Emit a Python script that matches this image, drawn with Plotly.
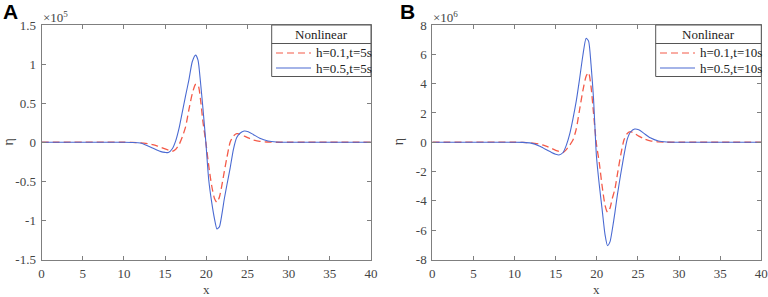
import plotly.graph_objects as go

W, H = 768, 297

# ---- data ----
x_vals = [0, 10, 11, 12, 13, 13.5, 14, 14.5, 15, 15.4, 15.9, 16.3, 16.7, 17.1, 17.5, 17.9,
          18.3, 18.7, 19.0, 19.3, 19.6, 19.95, 20.3, 20.65, 21.0, 21.3, 21.6, 21.9, 22.2,
          22.5, 22.9, 23.3, 23.7, 24.1, 24.6, 25.1, 25.7, 26.5, 27.5, 28.5, 30, 40]

# Panel A, eta in units of 1e5
a_h01_t5 = [0, 0, -0.002, -0.008, -0.02, -0.03, -0.045, -0.065, -0.085, -0.1, -0.115, -0.09,
            -0.03, 0.07, 0.2, 0.42, 0.62, 0.74, 0.735, 0.55, 0.26, 0.0, -0.3, -0.55, -0.72,
            -0.77, -0.7, -0.55, -0.37, -0.2, 0.0, 0.08, 0.11, 0.105, 0.08, 0.055, 0.03,
            0.012, 0.003, 0, 0, 0]
a_h05_t5 = [0, 0, -0.003, -0.01, -0.05, -0.075, -0.1, -0.12, -0.13, -0.132, -0.08, 0.02,
            0.18, 0.39, 0.6, 0.8, 1.03, 1.115, 1.05, 0.77, 0.43, 0.0, -0.48, -0.76, -0.98,
            -1.11, -1.08, -0.92, -0.72, -0.55, -0.33, -0.09, 0.06, 0.115, 0.143, 0.135,
            0.1, 0.05, 0.015, 0.003, 0, 0]

# Panel B, eta in units of 1e6
b_h01_t10 = [0, 0, -0.01, -0.04, -0.12, -0.2, -0.3, -0.42, -0.55, -0.63, -0.7, -0.5,
             -0.2, 0.15, 0.9, 2.2, 3.5, 4.5, 4.75, 3.8, 2.0, -0.1, -1.4, -3.0, -4.3,
             -4.78, -4.5, -3.8, -3.2, -2.2, -0.9, 0.15, 0.6, 0.72, 0.6, 0.42, 0.25,
             0.1, 0.02, 0, 0, 0]
b_h05_t10 = [0, 0, -0.01, -0.06, -0.25, -0.4, -0.55, -0.7, -0.82, -0.87, -0.7, -0.2,
             0.55, 1.6, 2.8, 4.3, 5.9, 7.1, 6.9, 5.3, 3.0, -0.9, -2.9, -4.6, -6.3,
             -7.05, -6.8, -5.9, -4.8, -3.6, -2.2, -0.9, 0.2, 0.7, 0.9, 0.85, 0.62,
             0.3, 0.08, 0.015, 0, 0]

x_ticks = [0, 5, 10, 15, 20, 25, 30, 35, 40]
a_yticks = [-1.5, -1, -0.5, 0, 0.5, 1, 1.5]
a_yticklabels = ["-1.5", "-1", "-0.5", "0", "0.5", "1", "1.5"]
b_yticks = [-8, -6, -4, -2, 0, 2, 4, 6, 8]
b_yticklabels = ["-8", "-6", "-4", "-2", "0", "2", "4", "6", "8"]

names_a = ["h=0.1,t=5s", "h=0.5,t=5s"]
names_b = ["h=0.1,t=10s", "h=0.5,t=10s"]

RED = "#f45a48"
BLUE = "#4a6ad2"
AX = "#7f7f7f"
TXT = "#444444"
SERIF = "Liberation Serif"
SANS = "Liberation Sans"


def px(x):
    return x / W


def py(y):
    return 1 - y / H


PA = dict(l=41.5, r=371, t=25, b=259.5)
PB = dict(l=432.3, r=761.3, t=25, b=259.5)

fig = go.Figure()
fig.add_trace(go.Scatter(x=x_vals, y=a_h01_t5, mode="lines", name=names_a[0],
                         line=dict(color=RED, width=1.3, dash="7px,4px", shape="spline", smoothing=0.6),
                         xaxis="x", yaxis="y", showlegend=False))
fig.add_trace(go.Scatter(x=x_vals, y=a_h05_t5, mode="lines", name=names_a[1],
                         line=dict(color=BLUE, width=1.1, shape="spline", smoothing=0.6),
                         xaxis="x", yaxis="y", showlegend=False))
fig.add_trace(go.Scatter(x=x_vals, y=b_h01_t10, mode="lines", name=names_b[0],
                         line=dict(color=RED, width=1.3, dash="7px,4px", shape="spline", smoothing=0.6),
                         xaxis="x2", yaxis="y2", showlegend=False))
fig.add_trace(go.Scatter(x=x_vals, y=b_h05_t10, mode="lines", name=names_b[1],
                         line=dict(color=BLUE, width=1.1, shape="spline", smoothing=0.6),
                         xaxis="x2", yaxis="y2", showlegend=False))

axis_common = dict(showgrid=False, zeroline=False, showline=True, linecolor=AX, linewidth=1,
                   mirror="ticks", ticks="inside", ticklen=4, tickcolor=AX, automargin=False,
                   tickfont=dict(family=SERIF, size=13, color=TXT))

fig.update_layout(
    template="none",
    width=W, height=H, margin=dict(l=0, r=0, t=0, b=0, pad=0), autosize=False,
    font=dict(family=SERIF, size=13, color=TXT),
    paper_bgcolor="white", plot_bgcolor="white",
    xaxis=dict(domain=[px(PA["l"]), px(PA["r"])], anchor="y", range=[0, 40],
               tickvals=x_ticks, ticklabelstandoff=2, **axis_common),
    yaxis=dict(domain=[py(PA["b"]), py(PA["t"])], anchor="x", range=[-1.5, 1.5],
               tickvals=a_yticks, ticktext=a_yticklabels, ticklabelstandoff=2, **axis_common),
    xaxis2=dict(domain=[px(PB["l"]), px(PB["r"])], anchor="y2", range=[0, 40],
                tickvals=x_ticks, ticklabelstandoff=2, **axis_common),
    yaxis2=dict(domain=[py(PB["b"]), py(PB["t"])], anchor="x2", range=[-8, 8],
                tickvals=b_yticks, ticktext=b_yticklabels, ticklabelstandoff=2, **axis_common),
)

shapes = []
annotations = []


def panel_decor(P, label, label_x, exp, names, leg_left, leg_line):
    cx = (P["l"] + P["r"]) / 2
    # panel letter
    annotations.append(dict(x=px(label_x), y=py(11.5), xref="paper", yref="paper", text="<b>%s</b>" % label,
                            showarrow=False, xanchor="left", yanchor="middle", borderpad=0,
                            font=dict(family=SANS, size=21, color="black")))
    # exponent
    annotations.append(dict(x=px(P["l"] - 1), y=py(17), xref="paper", yref="paper",
                            text="×10<sup>%s</sup>" % exp, showarrow=False, xanchor="left", yanchor="middle",
                            font=dict(family=SERIF, size=13, color=TXT)))
    # axis titles
    annotations.append(dict(x=px(cx), y=py(289), xref="paper", yref="paper", text="x",
                            showarrow=False, xanchor="center", yanchor="middle", borderpad=0,
                            font=dict(family=SERIF, size=13, color=TXT)))
    annotations.append(dict(x=px(P["l"] - 34), y=py(142), xref="paper", yref="paper", text="η",
                            showarrow=False, xanchor="center", yanchor="middle", textangle=-90,
                            font=dict(family=SERIF, size=14, color=TXT)))
    # legend box
    L, R, T, B = leg_left, P["r"], P["t"], 76.5
    shapes.append(dict(type="rect", xref="paper", yref="paper", x0=px(L), x1=px(R), y0=py(B), y1=py(T),
                       line=dict(color="#555555", width=1), fillcolor="white", layer="above"))
    shapes.append(dict(type="line", xref="paper", yref="paper", x0=px(L), x1=px(R), y0=py(43.5), y1=py(43.5),
                       line=dict(color="#555555", width=1), layer="above"))
    annotations.append(dict(x=px((L + R) / 2), y=py(34.5), xref="paper", yref="paper", text="Nonlinear",
                            showarrow=False, xanchor="center", yanchor="middle",
                            font=dict(family=SERIF, size=13, color="#222222")))
    for i, (nm, col, dash, wd) in enumerate([(names[0], RED, "7px,4px", 1.2), (names[1], BLUE, "solid", 1.1)]):
        yy = 53 + 15 * i
        shapes.append(dict(type="line", xref="paper", yref="paper", x0=px(leg_line[0]), x1=px(leg_line[1]),
                           y0=py(yy), y1=py(yy), line=dict(color=col, width=wd, dash=dash), layer="above"))
        annotations.append(dict(x=px(leg_line[1] + 3), y=py(yy), xref="paper", yref="paper", text=nm,
                                showarrow=False, xanchor="left", yanchor="middle",
                                font=dict(family=SERIF, size=13, color="#222222")))


panel_decor(PA, "A", 2, "5", names_a, 271.7, (276, 311))
panel_decor(PB, "B", 399, "6", names_b, 655.7, (660, 695))

fig.update_layout(shapes=shapes, annotations=annotations)
fig.write_html("out.html", config={"displayModeBar": False},
               post_script="document.body.style.margin='0';document.body.style.padding='0';")
